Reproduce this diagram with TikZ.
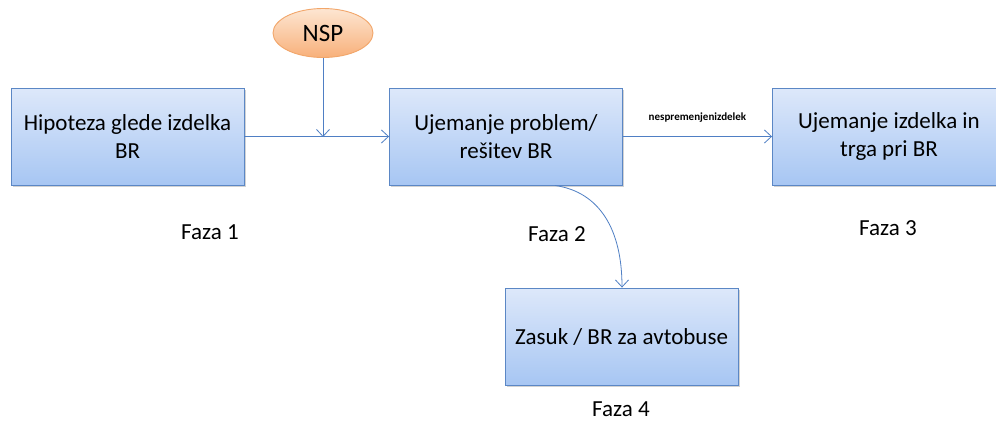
\documentclass[tikz,border=0pt]{standalone}
\usepackage{fontspec}
\setmainfont{Carlito}
\usetikzlibrary{arrows.meta,shapes.geometric,shadows}
\definecolor{boxtop}{HTML}{DDE8FA}
\definecolor{boxbot}{HTML}{A7C6F3}
\definecolor{boxline}{HTML}{5B87C5}
\definecolor{ovtop}{HTML}{FDE6D2}
\definecolor{ovbot}{HTML}{F8B07A}
\definecolor{ovline}{HTML}{F2A66A}
\definecolor{link}{HTML}{4F7FC4}
\tikzset{
  stage/.style={draw=boxline, line width=0.9pt, top color=boxtop, bottom color=boxbot,
    minimum width=233pt, minimum height=97pt, align=center, font=\fontsize{23}{28}\selectfont,
    drop shadow={shadow xshift=1.5pt, shadow yshift=-1.5pt, opacity=0.35}},
  source/.style={ellipse, draw=ovline, line width=0.9pt, top color=ovtop, bottom color=ovbot,
    minimum width=100pt, minimum height=49pt, inner sep=0pt, font=\fontsize{25}{28}\selectfont},
  link/.style={draw=link, line width=0.8pt, -{Straight Barb[length=7pt,width=13pt,line width=0.8pt]}},
  phase/.style={font=\fontsize{23}{26}\selectfont, inner sep=1pt},
  edgetext/.style={font=\bfseries\fontsize{11}{13}\selectfont}
}
\begin{document}
\begin{tikzpicture}[x=1pt,y=-1pt]
\useasboundingbox (0,0) rectangle (996,423);
\clip (0,0) rectangle (996,423);
\fill[white] (0,0) rectangle (996,423);
\node[stage] (hyp) at (127.5,136.5) {Hipoteza glede izdelka\\BR};
\node[stage] (fit) at (506,136.5) {Ujemanje problem/\\rešitev BR};
\node[stage] (mkt) at (889,136.5) {Ujemanje izdelka in\\trga pri BR};
\node[stage] (piv) at (621.5,336.5) {Zasuk / BR za avtobuse};
\node[source] (nsp) at (323,33) {NSP};
\coordinate (join) at (323,137);
\draw[link] (hyp.east) -- (fit.west);
\draw[link] (nsp.south) -- (join);
\draw[link] (fit.east) -- node[above=10pt, edgetext] {nespremenjenizdelek} (mkt.west);
\draw[link] (fit.south -| 555,0) .. controls (600,192) and (622,230) .. (piv.north -| 622,0);
\node[phase] (f1) at (210,232) {Faza 1};
\node[phase] (f2) at (557,234) {Faza 2};
\node[phase] (f3) at (888,228) {Faza 3};
\node[phase] (f4) at (621,409) {Faza 4};
\end{tikzpicture}
\end{document}
